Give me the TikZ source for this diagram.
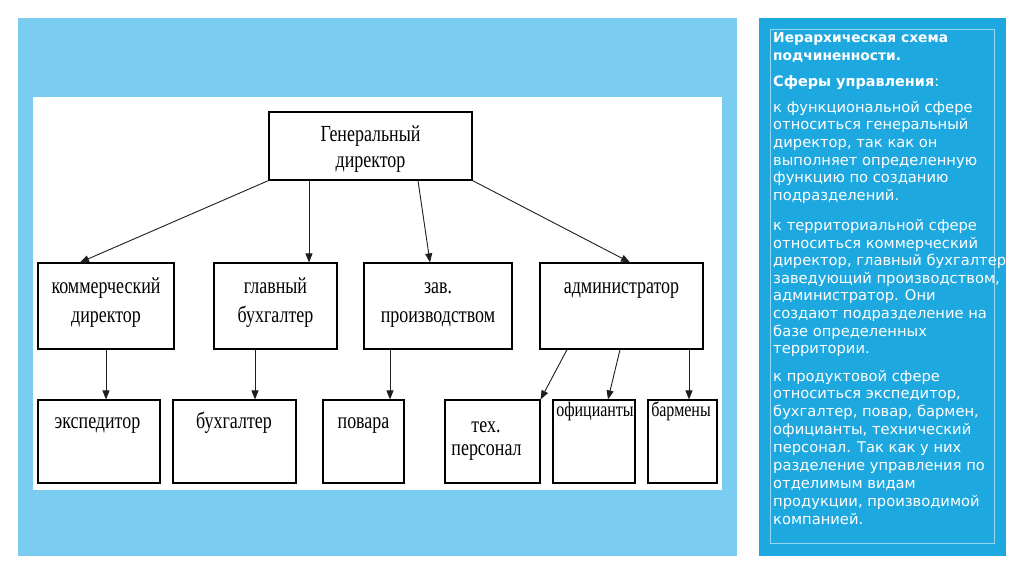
\documentclass[tikz,border=0pt]{standalone}
\usepackage{fontspec}
\setmainfont{Liberation Serif}
\newfontfamily\diagfont[FakeStretch=0.78]{Liberation Serif}
\newfontfamily\panelfont{DejaVu Sans}
\usetikzlibrary{arrows.meta}
\definecolor{lightpanel}{RGB}{122,205,240}
\definecolor{darkpanel}{RGB}{30,168,224}
\definecolor{panelline}{RGB}{150,216,243}
\definecolor{linegray}{RGB}{30,30,30}
\newcommand\pl[3]{\node[ptxt] (#1) at (773,#2) {#3};}
\newcommand\pb[3]{\node[ptxt,font=\panelfont\bfseries\fontsize{13.8}{16}\selectfont] (#1) at (773,#2) {#3};}
\begin{document}
\begin{tikzpicture}[x=1pt,y=-1pt,
  box/.style={draw=black,line width=1.2pt,fill=white,inner sep=0pt},
  lbl/.style={font=\diagfont\fontsize{23}{27}\selectfont,inner sep=0pt,anchor=base},
  slbl/.style={font=\diagfont\fontsize{23}{27}\selectfont,inner sep=0pt,anchor=base},
  tlbl/.style={font=\diagfont\fontsize{20.5}{24}\selectfont,inner sep=0pt,anchor=base},
  arr/.style={line width=0.9pt,draw=linegray,-{Triangle[length=9pt,width=7pt]}},
  ptxt/.style={font=\panelfont\fontsize{14.7}{17.6}\selectfont,text=white,inner sep=0pt,anchor=base west}]
\useasboundingbox (0,0) rectangle (1024,574);
\fill[white] (0,0) rectangle (1024,574);
\fill[lightpanel] (18,18) rectangle (737,556);
\fill[white] (33,97) rectangle (722,490);
\fill[darkpanel] (759,18) rectangle (1006,556);
\draw[panelline,line width=0.8pt] (770,29.5) rectangle (994,543.5);

% boxes
\node[box,minimum width=203pt,minimum height=68pt] (gen) at (370.5,146) {};
\node[box,minimum width=136pt,minimum height=86pt] (kom) at (106,306) {};
\node[box,minimum width=123pt,minimum height=86pt] (glav) at (275.5,306) {};
\node[box,minimum width=148pt,minimum height=86pt] (zav) at (438,306) {};
\node[box,minimum width=163pt,minimum height=86pt] (adm) at (621.5,306) {};
\node[box,minimum width=122pt,minimum height=83pt] (eks) at (99,441.5) {};
\node[box,minimum width=123pt,minimum height=83pt] (buh) at (234.5,441.5) {};
\node[box,minimum width=81pt,minimum height=83pt] (pov) at (363.5,441.5) {};
\node[box,minimum width=95pt,minimum height=83pt] (teh) at (492.5,441.5) {};
\node[box,minimum width=82pt,minimum height=83pt] (ofi) at (594,441.5) {};
\node[box,minimum width=69pt,minimum height=83pt] (bar) at (682.5,441.5) {};

% labels
\node[lbl] (genA) at (370.5,141) {Генеральный};
\node[lbl] (genB) at (370.5,167) {директор};
\node[lbl] (komA) at (106,293) {коммерческий};
\node[lbl] (komB) at (106,322) {директор};
\node[lbl] (glavA) at (275.5,293) {главный};
\node[lbl] (glavB) at (275.5,322) {бухгалтер};
\node[lbl] (zavA) at (438,293) {зав.};
\node[lbl] (zavB) at (438,322) {производством};
\node[lbl] (admA) at (621.5,293) {администратор};
\node[slbl] (eksA) at (97.5,428) {экспедитор};
\node[slbl] (buhA) at (234,428) {бухгалтер};
\node[slbl] (povA) at (363.5,428) {повара};
\node[slbl] (tehA) at (486,432) {тех.};
\node[slbl] (tehB) at (486.5,455) {персонал};
\node[tlbl] (ofiA) at (595,416) {официанты};
\node[tlbl] (barA) at (681,416) {бармены};

% connectors
\draw[arr] (gen.south west) -- (kom.north west -| 80,0);
\draw[arr] (gen.south -| 309,0) -- (glav.north -| 309,0);
\draw[arr] (gen.south -| 418,0) -- (zav.north -| 430,0);
\draw[arr] (gen.south east) -- (adm.north -| 630,0);
\draw[arr] (kom.south -| 106,0) -- (eks.north -| 106,0);
\draw[arr] (glav.south -| 255,0) -- (buh.north -| 255,0);
\draw[arr] (zav.south -| 390,0) -- (pov.north -| 390,0);
\draw[arr] (adm.south -| 567,0) -- (teh.north east);
\draw[arr] (adm.south -| 620,0) -- (ofi.north -| 608,0);
\draw[arr] (adm.south -| 689,0) -- (bar.north -| 689,0);

% right panel text
\pb{t1}{42}{Иерархическая схема}
\pb{t2}{60}{подчиненности.}
\node[ptxt] (t3) at (773,86) {{\bfseries\fontsize{14.4}{16}\selectfont Сферы управления}:};
\pl{a1}{112}{к функциональной сфере}
\pl{a2}{129.7}{относиться генеральный}
\pl{a3}{147.4}{директор, так как он}
\pl{a4}{165.1}{выполняет определенную}
\pl{a5}{182.8}{функцию по созданию}
\pl{a6}{200.5}{подразделений.}
\pl{b1}{230.5}{к территориальной сфере}
\pl{b2}{248.1}{относиться коммерческий}
\pl{b3}{265.7}{директор, главный бухгалтер,}
\pl{b4}{283.3}{заведующий производством,}
\pl{b5}{300.9}{администратор. Они}
\pl{b6}{318.5}{создают подразделение на}
\pl{b7}{336.1}{базе определенных}
\pl{b8}{353.7}{территории.}
\pl{c1}{381}{к продуктовой сфере}
\pl{c2}{398.9}{относиться экспедитор,}
\pl{c3}{416.8}{бухгалтер, повар, бармен,}
\pl{c4}{434.7}{официанты, технический}
\pl{c5}{452.6}{персонал. Так как у них}
\pl{c6}{470.5}{разделение управления по}
\pl{c7}{488.4}{отделимым видам}
\pl{c8}{506.3}{продукции, производимой}
\pl{c9}{524.2}{компанией.}
\end{tikzpicture}
\end{document}
